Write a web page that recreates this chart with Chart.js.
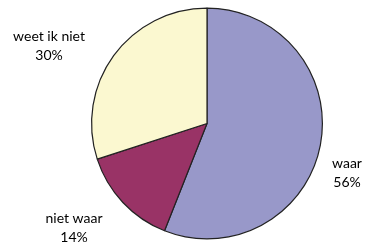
<!DOCTYPE html>
<html>
<head>
<meta charset="utf-8">
<script src="https://cdn.jsdelivr.net/npm/chart.js@4"></script>
<style>
html,body{margin:0;padding:0;background:#fff;}
#wrap{width:365px;height:245px;position:relative;}
</style>
</head>
<body>
<div id="wrap"><canvas id="c" width="365" height="245"></canvas></div>
<script>
const categories = ["waar", "niet waar", "weet ik niet"];
const values = [56, 14, 30];
const valueLabels = ["56%", "14%", "30%"];
const colors = ["#9898C9", "#993366", "#FBF8D0"];
// label anchor positions (text centres), in canvas pixels
const labelPos = [[347, 163], [74, 218], [49, 36]];

const labelPlugin = {
  id: 'outsideLabels',
  afterDraw(chart) {
    const ctx = chart.ctx;
    ctx.save();
    ctx.fillStyle = '#000';
    ctx.font = '14px Lato, "Open Sans", sans-serif';
    ctx.textAlign = 'center';
    ctx.textBaseline = 'middle';
    categories.forEach((c, i) => {
      const [x, y] = labelPos[i];
      ctx.fillText(c, x, y);
      ctx.fillText(valueLabels[i], x, y + 19);
    });
    ctx.restore();
  }
};

new Chart(document.getElementById('c'), {
  type: 'pie',
  data: {
    labels: categories,
    datasets: [{
      data: values,
      backgroundColor: colors,
      borderColor: '#222',
      borderWidth: 1.2
    }]
  },
  options: {
    responsive: false,
    animation: false,
    layout: { padding: { top: 7, bottom: 5, left: 91, right: 42 } },
    plugins: { legend: { display: false }, tooltip: { enabled: false } }
  },
  plugins: [labelPlugin]
});
</script>
</body>
</html>
